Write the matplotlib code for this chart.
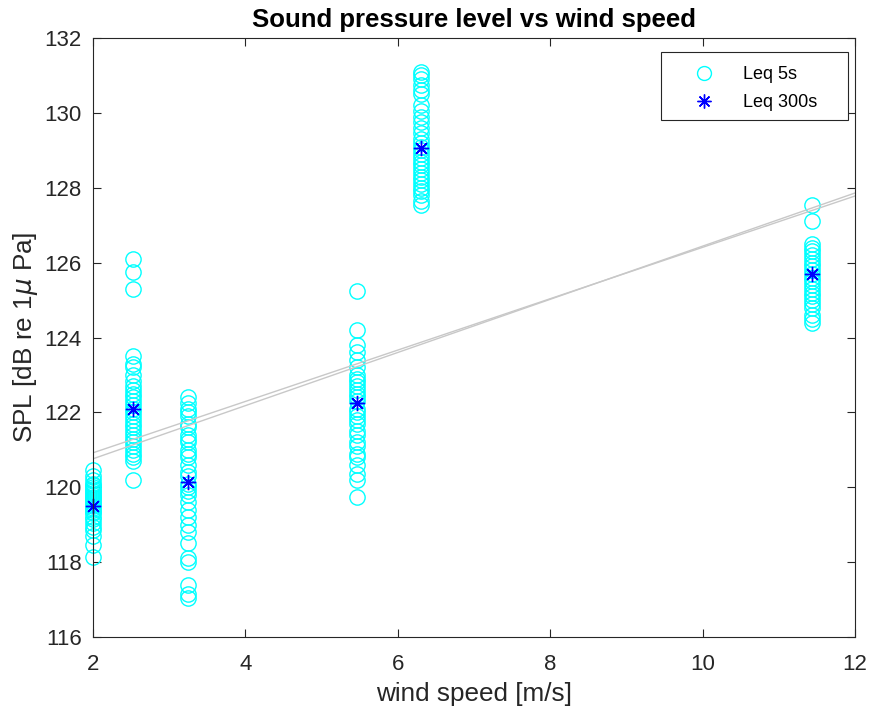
import numpy as np
import matplotlib
matplotlib.use('Agg')
import matplotlib.pyplot as plt
from matplotlib.patches import Rectangle

plt.rcParams['font.family'] = ['Liberation Sans', 'DejaVu Sans']

# wind speed of each recording
wind = [2.0, 2.53, 3.25, 5.47, 6.3, 11.43]

# Leq 5s values per wind speed
leq5 = [
    [118.15, 118.45, 118.7, 118.85, 118.95, 119.05, 119.15, 119.2, 119.3, 119.35,
     119.4, 119.45, 119.5, 119.55, 119.6, 119.65, 119.7, 119.75, 119.8, 119.85,
     119.9, 119.95, 120.0, 120.05, 120.1, 120.2, 120.3, 120.45],
    [120.2, 120.7, 120.8, 120.9, 121.0, 121.1, 121.2, 121.3, 121.4, 121.5,
     121.6, 121.7, 121.8, 121.9, 122.0, 122.1, 122.2, 122.3, 122.4, 122.5,
     122.6, 122.7, 122.85, 123.0, 123.2, 123.3, 123.5, 125.3, 125.75, 126.1],
    [117.05, 117.15, 117.4, 118.0, 118.1, 118.5, 118.8, 119.0, 119.2, 119.4,
     119.6, 119.8, 119.9, 120.0, 120.1, 120.3, 120.4, 120.6, 120.8, 120.9,
     121.0, 121.2, 121.3, 121.4, 121.6, 121.7, 121.9, 122.0, 122.1, 122.25, 122.4],
    [119.75, 120.2, 120.35, 120.6, 120.8, 120.9, 121.1, 121.2, 121.4, 121.5,
     121.7, 121.8, 121.9, 122.0, 122.1, 122.3, 122.4, 122.5, 122.6, 122.7,
     122.8, 122.9, 123.0, 123.2, 123.4, 123.6, 123.8, 124.2, 125.25],
    [127.55, 127.65, 127.8, 127.9, 128.0, 128.1, 128.2, 128.3, 128.4, 128.5,
     128.6, 128.7, 128.8, 128.9, 129.0, 129.1, 129.2, 129.3, 129.45, 129.6,
     129.75, 129.9, 130.05, 130.2, 130.5, 130.6, 130.75, 130.9, 131.0, 131.1],
    [124.4, 124.5, 124.6, 124.8, 124.9, 125.0, 125.1, 125.2, 125.3, 125.4,
     125.5, 125.6, 125.7, 125.8, 125.9, 126.0, 126.1, 126.2, 126.3, 126.4,
     126.5, 127.1, 127.55],
]

# Leq 300s per wind speed
leq300 = [119.5, 122.1, 120.15, 122.25, 129.05, 125.7]

# two fitted lines (value at x=2 and x=12)
fit_x = [2, 12]
fit_a = [120.92, 127.78]
fit_b = [120.76, 127.86]

W, H = 871, 713
fig = plt.figure(figsize=(W / 100, H / 100), dpi=100)
ax = fig.add_axes([93 / W, 1 - 637 / H, 762 / W, 599 / H])

# asterisk like matlab's '*'
ast = (8, 2, 0)

for i in range(len(wind)):
    xs = [wind[i]] * len(leq5[i])
    ax.plot(xs, leq5[i], 'o', color='cyan', markerfacecolor='none',
            markersize=11, markeredgewidth=1.0, clip_on=False,
            label='Leq 5s' if i == 0 else None)
ax.plot(wind, leq300, marker=ast, color='blue', markersize=11,
        markeredgewidth=1.0, linestyle='none', clip_on=False, label='Leq 300s')

ax.plot(fit_x, fit_a, color='#c8c8c8', linewidth=1.0)
ax.plot(fit_x, fit_b, color='#c8c8c8', linewidth=1.0)

ax.set_xlim(2, 12)
ax.set_ylim(116, 132)
ax.set_xticks(np.arange(2, 13, 2))
ax.set_yticks(np.arange(116, 133, 2))
ax.tick_params(direction='in', top=True, right=True, labelsize=16,
               colors='#262626', length=6)
ax.tick_params(axis='x', pad=12)
ax.tick_params(axis='y', pad=8)
for s in ax.spines.values():
    s.set_color('#262626')
    s.set_linewidth(0.8)

ax.set_xlabel('wind speed [m/s]', fontsize=18.8, color='#262626', labelpad=5)
ax.set_ylabel('SPL [dB re 1$\\mu$ Pa]', fontsize=18.8, color='#262626',
              labelpad=3)
ax.set_title('Sound pressure level vs wind speed', fontsize=18.5,
             fontweight='bold', pad=8)

# legend box drawn by hand so its size matches
box_l, box_t, box_r, box_b = 661, 52, 848, 120
frame = Rectangle((box_l / W, 1 - box_b / H), (box_r - box_l) / W,
                  (box_b - box_t) / H, transform=fig.transFigure,
                  facecolor='white', edgecolor='#262626', linewidth=0.8,
                  zorder=4, clip_on=False)
ax.add_patch(frame)
leg = ax.legend(loc='upper left', bbox_to_anchor=(box_l / W, 1 - box_t / H),
                bbox_transform=fig.transFigure, fontsize=13, frameon=False,
                borderpad=0.8, borderaxespad=0, handlelength=3.2,
                handletextpad=0.55, labelspacing=0.6)
for h in leg.legend_handles:
    h.set_markersize(10)
leg.set_zorder(5)

fig.savefig('out.png', dpi=100)
